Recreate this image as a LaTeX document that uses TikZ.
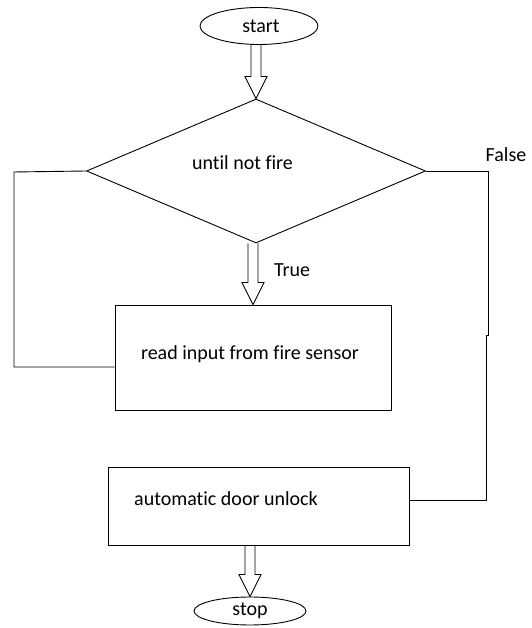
\documentclass[tikz,border=0pt]{standalone}
\usepackage{fontspec}
\setmainfont{Carlito}[Ligatures=NoCommon]
\usetikzlibrary{shapes.geometric,calc}
\tikzset{
  ln/.style={draw=black,line width=0.9pt},
  term/.style={ln,ellipse,inner sep=0pt},
  procbox/.style={ln,rectangle,inner sep=0pt},
  txt/.style={font=\fontsize{20}{22}\selectfont,inner sep=0pt},
  blockar/.style={ln,line join=miter}
}
\newcommand\blockarrow[2]{%
  \draw[blockar] let \p1=(#1), \p2=(#2) in
    (\x2-5pt,\y1) -- (\x2-5pt,\y2+22pt) -- (\x2-11pt,\y2+22pt) -- (\x2,\y2)
    -- (\x2+11pt,\y2+22pt) -- (\x2+5pt,\y2+22pt) -- (\x2+5pt,\y1);}
\begin{document}
\begin{tikzpicture}[x=1pt,y=1pt]
\useasboundingbox (0,0) rectangle (531,628);
% nodes
\node[term,minimum width=118pt,minimum height=37pt] (start) at (259,602) {};
\node[txt] (starttxt) at (261,602) {start};
\node[ln,diamond,aspect=2.35,minimum width=339pt,minimum height=144pt,inner sep=0pt] (dia) at (256,457) {};
\node[txt] (diatxt) at (242.5,465) {until not fire};
\node[procbox,minimum width=276pt,minimum height=105pt] (box1) at (253,270.5) {};
\node[txt] (box1txt) at (250,274) {read input from fire sensor};
\node[procbox,minimum width=301pt,minimum height=78pt] (box2) at (258.5,122) {};
\node[txt] (box2txt) at (226,129) {automatic door unlock};
\node[term,minimum width=112pt,minimum height=28pt] (stop) at (250,17) {};
\node[txt] (stoptxt) at (250,17) {stop};
\node[txt] (truelbl) at (292,358) {True};
\node[txt] (falselbl) at (506,473) {False};
% block arrows
\blockarrow{start.south}{dia.north}
\blockarrow{dia.south}{box1.north}
\blockarrow{box2.south}{stop.north}
% loop back (left)
\coordinate (lp) at (14,456);
\coordinate (lq) at ([yshift=-9.5pt]box1.west);
\draw[ln] (dia.west) -- (lp) |- (lq);
% false branch (right)
\coordinate (r1) at (488,457);
\coordinate (r2) at (488,293);
\coordinate (r3) at (486,293);
\coordinate (r4) at ([yshift=6pt]box2.east);
\draw[ln] (dia.east) -- (r1) -- (r2) -- (r3) |- (r4);
\end{tikzpicture}
\end{document}
